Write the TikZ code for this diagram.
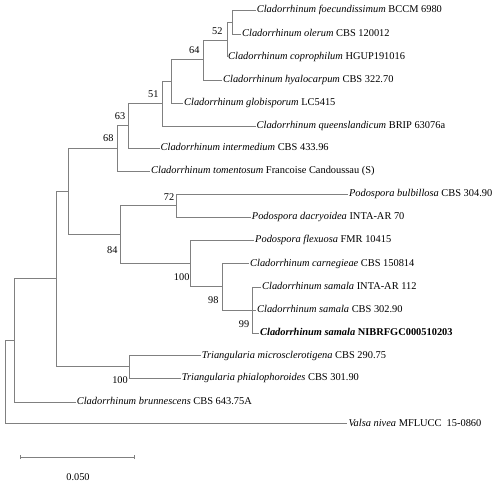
\documentclass[tikz,border=0pt]{standalone}
\usepackage{fontspec}
\setmainfont{Liberation Serif}
\begin{document}
\begin{tikzpicture}[x=1pt,y=-1pt,
  branch/.style={draw=treegray,line width=0.85pt},
  leaf/.style={anchor=west,inner xsep=1pt,inner ysep=0pt,text height=7.4pt,text depth=2pt,font=\fontsize{10.4}{12}\selectfont},
  boot/.style={inner sep=0pt,font=\fontsize{10.3}{12}\selectfont},
]
\definecolor{treegray}{RGB}{128,128,128}
\useasboundingbox (0,0) rectangle (501,482);
% leaves
\node[leaf] (l1)  at (255.7,10)   {\textit{Cladorrhinum foecundissimum} BCCM 6980};
\node[leaf] (l2)  at (241,34)     {\textit{Cladorrhinum olerum} CBS 120012};
\node[leaf] (l3)  at (227,57)     {\textit{Cladorrhinum coprophilum} HGUP191016};
\node[leaf] (l4)  at (222,80)     {\textit{Cladorrhinum hyalocarpum} CBS 322.70};
\node[leaf] (l5)  at (183,103)    {\textit{Cladorrhinum globisporum} LC5415};
\node[leaf] (l6)  at (255.5,126)  {\textit{Cladorrhinum queenslandicum} BRIP 63076a};
\node[leaf] (l7)  at (159.5,148)  {\textit{Cladorrhinum intermedium} CBS 433.96};
\node[leaf] (l8)  at (150,171)    {\textit{Cladorrhinum tomentosum} Francoise Candoussau (S)};
\node[leaf] (l9)  at (347.8,194)  {\textit{Podospora bulbillosa} CBS 304.90};
\node[leaf] (l10) at (250.7,217)  {\textit{Podospora dacryoidea} INTA-AR 70};
\node[leaf] (l11) at (254,240)    {\textit{Podospora flexuosa} FMR 10415};
\node[leaf] (l12) at (249,263.3)  {\textit{Cladorrhinum carnegieae} CBS 150814};
\node[leaf] (l13) at (261,287)    {\textit{Cladorrhinum samala} INTA-AR 112};
\node[leaf] (l14) at (256,310)    {\textit{Cladorrhinum samala} CBS 302.90};
\node[leaf] (l15) at (259,333)    {\textbf{\textit{Cladorrhinum samala} NIBRFGC000510203}};
\node[leaf] (l16) at (200.7,355.5){\textit{Triangularia microsclerotigena} CBS 290.75};
\node[leaf] (l17) at (180.7,378)  {\textit{Triangularia phialophoroides} CBS 301.90};
\node[leaf] (l18) at (75.7,402)   {\textit{Cladorrhinum brunnescens} CBS 643.75A};
\node[leaf] (l19) at (347.3,423.5){\textit{Valsa nivea} MFLUCC~~15-0860};
% internal nodes
\coordinate (n1)   at (232,22);
\coordinate (n52)  at (227,40);
\coordinate (n64)  at (203,59.5);
\coordinate (nX)   at (171,81);
\coordinate (n51)  at (162,103);
\coordinate (n63)  at (128,125.5);
\coordinate (n68)  at (117,148.5);
\coordinate (n72)  at (176.7,205.5);
\coordinate (n99)  at (252.7,310);
\coordinate (n98)  at (222.3,286.5);
\coordinate (n100) at (190.7,263);
\coordinate (n84)  at (120.7,234);
\coordinate (nA)   at (68.3,191);
\coordinate (nT)   at (129.3,366.5);
\coordinate (nC)   at (56.7,278.5);
\coordinate (nB)   at (14,340.5);
\coordinate (root) at (5.7,381);
% branches
\draw[branch] (n1) |- (l1.west);
\draw[branch] (n1) |- (l2.west);
\draw[branch] (n52) |- (n1);
\draw[branch] (n52) |- (l3.west);
\draw[branch] (n64) |- (n52);
\draw[branch] (n64) |- (l4.west);
\draw[branch] (nX) |- (n64);
\draw[branch] (nX) |- (l5.west);
\draw[branch] (n51) |- (nX);
\draw[branch] (n51) |- (l6.west);
\draw[branch] (n63) |- (n51);
\draw[branch] (n63) |- (l7.west);
\draw[branch] (n68) |- (n63);
\draw[branch] (n68) |- (l8.west);
\draw[branch] (n72) |- (l9.west);
\draw[branch] (n72) |- (l10.west);
\draw[branch] (n99) |- (l13.west);
\draw[branch] (n99) |- (l14.west);
\draw[branch] (n99) |- (l15.west);
\draw[branch] (n98) |- (l12.west);
\draw[branch] (n98) |- (n99);
\draw[branch] (n100) |- (l11.west);
\draw[branch] (n100) |- (n98);
\draw[branch] (n84) |- (n72);
\draw[branch] (n84) |- (n100);
\draw[branch] (nA) |- (n68);
\draw[branch] (nA) |- (n84);
\draw[branch] (nT) |- (l16.west);
\draw[branch] (nT) |- (l17.west);
\draw[branch] (nC) |- (nA);
\draw[branch] (nC) |- (nT);
\draw[branch] (nB) |- (nC);
\draw[branch] (nB) |- (l18.west);
\draw[branch] (root) |- (nB);
\draw[branch] (root) |- (l19.west);
% bootstrap values
\node[boot] (b52)  at (217.3,30.7) {52};
\node[boot] (b64)  at (194.3,50)   {64};
\node[boot] (b51)  at (153.3,94)   {51};
\node[boot] (b63)  at (120,116)    {63};
\node[boot] (b68)  at (108.3,138.3){68};
\node[boot] (b72)  at (169,196.7)  {72};
\node[boot] (b84)  at (112.3,250)  {84};
\node[boot] (b100) at (181.7,277.3){100};
\node[boot] (b98)  at (213.3,300)  {98};
\node[boot] (b99)  at (244,324)    {99};
\node[boot] (b100t) at (120,380)   {100};
% scale bar
\coordinate (s1) at (20,457);
\coordinate (s2) at (134,457);
\draw[branch] (s1) -- (s2);
\draw[branch] ([yshift=-2pt]s1) -- ([yshift=2pt]s1);
\draw[branch] ([yshift=-2pt]s2) -- ([yshift=2pt]s2);
\node[boot] (scale) at (78,477) {0.050};
\end{tikzpicture}
\end{document}
